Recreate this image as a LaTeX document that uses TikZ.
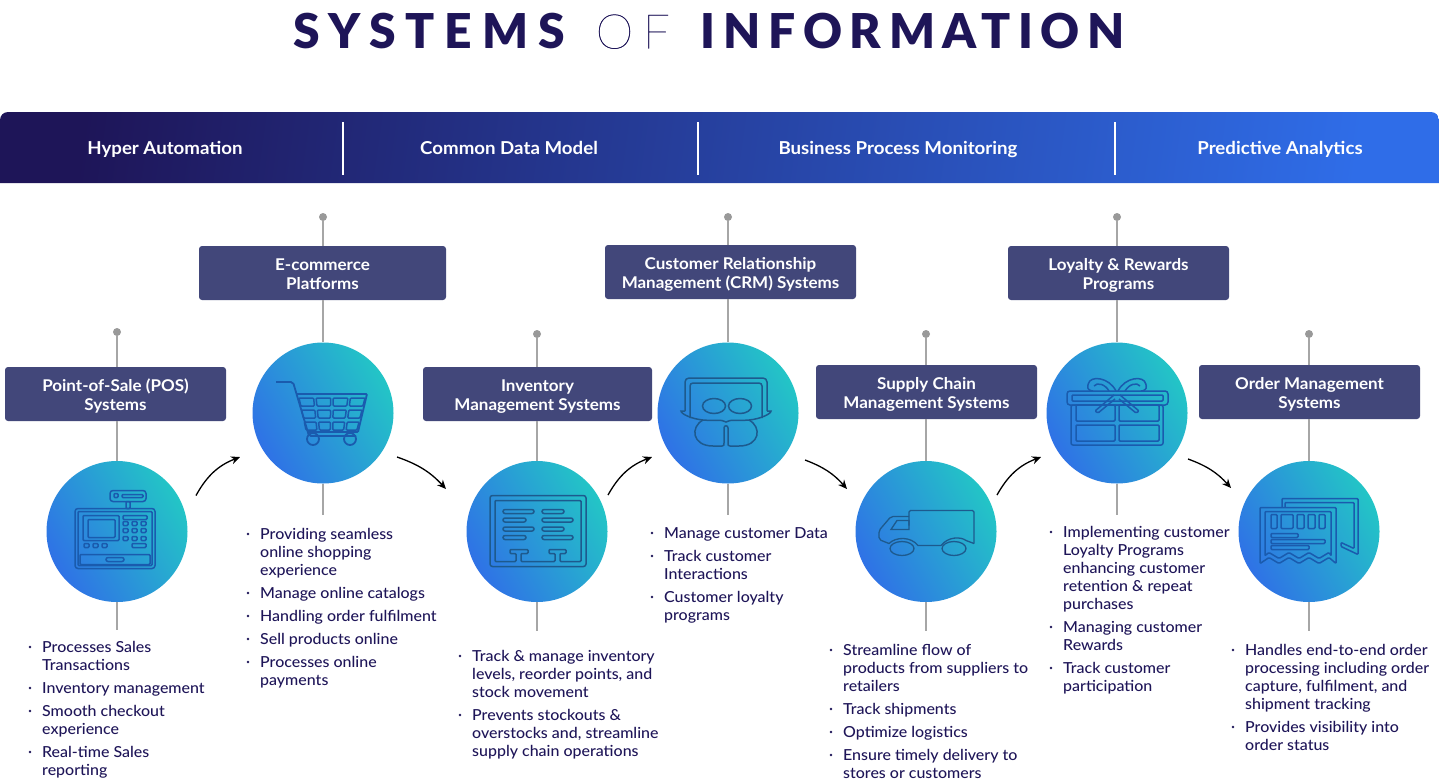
\documentclass[tikz,border=0pt]{standalone}
\usepackage{fontspec}
\setmainfont{Lato Medium}[FakeStretch=1.05,BoldFont={Lato Bold},BoldFeatures={FakeStretch=1.05}]
\newfontfamily\titleheavy{Lato Black}[LetterSpace=20.5]
\newfontfamily\titlewide{Lato Black}[LetterSpace=16]
\newfontfamily\titlethin{Lato Thin}[LetterSpace=20,FakeBold=0.5]
\usepackage{xcolor}
\usetikzlibrary{arrows.meta,positioning,calc}
\definecolor{navy}{HTML}{1E1558}
\definecolor{boxc}{HTML}{42477A}
\definecolor{stemc}{HTML}{A6A6A6}
\definecolor{pinc}{HTML}{999999}
\definecolor{barl}{HTML}{1E1558}
\definecolor{barr}{HTML}{2F6DE8}
\definecolor{circb}{HTML}{2F72E6}
\definecolor{circt}{HTML}{23C5C6}
\definecolor{iconc}{HTML}{1A5BAE}
\definecolor{icond}{HTML}{1D5A8E}
\tikzset{
  declare function={cartL(\y)=-24+.22*(\y+15); cartP(\y)=(68.5-.47*(\y+15))/4;},
  stemline/.style={draw=stemc, line width=2pt},
  pindot/.style={circle, fill=pinc, inner sep=0pt, minimum size=8pt},
  stagebox/.style={fill=boxc, rounded corners=3pt, text=white, align=center, inner sep=0pt, minimum height=54pt, font=\fontsize{16.2}{19}\selectfont\bfseries},
  disc/.style={circle, inner sep=0pt, minimum size=141pt, bottom color=circb, top color=circt, shading angle=-60},
  flow/.style={-{Stealth[length=9pt,width=8pt]}, line width=1.3pt, black},
  barlbl/.style={text=white, inner sep=0pt, text height=13pt, text depth=4pt, font=\fontsize{17.8}{20}\selectfont\bfseries},
  bullettxt/.style={anchor=north west, inner sep=0pt, text=navy, align=left, font=\fontsize{15.2}{18}\selectfont},
  bulletdot/.style={circle, fill=navy, inner sep=0pt, minimum size=2.8pt},
  icon/.style={draw=iconc, line width=1.5pt, rounded corners=1pt},
  icondark/.style={draw=icond, line width=1.3pt},
}
\newcommand{\stage}[9]{%
  \node[pindot] (#1pin) at (#2,#3) {};
  \node[stagebox, minimum width=#6pt] (#1box) at (#4,#5) {\rule{0pt}{18pt}#9\rule[-4pt]{0pt}{4pt}};
  \node[disc] (#1) at (#2,#7) {};
  \coordinate (#1foot) at (#2,#8);
  \draw[stemline] (#1pin) -- (#1box.north -| #1pin);
  \draw[stemline] (#1box.south -| #1pin) -- (#1);
  \draw[stemline] (#1) -- (#1foot);
}
\newcommand{\bul}[4]{%
  \node[bulletdot] (#1d) at (#2-12,#3) {};
  \node[bullettxt] (#1) at (#2,#3-7) {\strut #4};
}
\newcommand{\hop}[5]{\draw[flow] ($(#1)+(#2)$) to[bend left=#5] ($(#3)+(#4)$);}
\begin{document}
\begin{tikzpicture}[x=1pt,y=-1pt]
  \useasboundingbox (0,0) rectangle (1439,782);
  % title
  \node[anchor=west, inner sep=0pt, text=navy, font=\fontsize{48}{50}\selectfont] (title) at (293,31)
    {{\titleheavy SYSTEMS}\hspace{31pt}{\titlethin OF}\hspace{31pt}{\titlewide INFORMATION}};
  % band
  \shade[left color=barl, right color=barr, shading angle=82]
    (0,183) [rounded corners=8pt] -- (0,112) -- (1439,112) [sharp corners] -- (1439,183) -- cycle;
  \foreach \x in {343,698,1115} \draw[white, line width=1.1pt] (\x,122) -- (\x,175);
  \node[barlbl] (hyper) at (165,149.5) {Hyper Automation};
  \node[barlbl] (cdm) at (509,149.5) {Common Data Model};
  \node[barlbl] (bpm) at (898,149.5) {Business Process Monitoring};
  \node[barlbl] (pred) at (1280,149.5) {Predictive Analytics};
  % stages
  \stage{pos}{117}{332}{115.5}{394}{221}{531.5}{630}{Point-of-Sale (POS)\\Systems}
  \stage{ecom}{323}{217}{322.5}{273}{247}{413}{515}{E-commerce\\Platforms}
  \stage{inv}{537}{334}{537.5}{394}{229}{531.5}{631}{Inventory\\Management Systems}
  \stage{crm}{728}{217}{730.5}{272}{251}{413}{515}{Customer Relationship\\Management (CRM) Systems}
  \stage{sup}{926}{334}{926.5}{392}{221}{531.5}{631}{Supply Chain\\Management Systems}
  \stage{loy}{1117}{217}{1118.5}{273}{221}{413}{515}{Loyalty \& Rewards\\Programs}
  \stage{ord}{1309}{334}{1309.5}{392}{221}{531.5}{631}{Order Management\\Systems}
  % arrows
  \hop{pos}{79,-36}{ecom}{-83,44}{20}
  \hop{ecom}{74,44}{inv}{-91,-42.5}{14}
  \hop{inv}{71,-36.5}{crm}{-76,44}{20}
  \hop{crm}{77,47}{sup}{-79,-42.5}{14}
  \hop{sup}{71,-36.5}{loy}{-76,44}{20}
  \hop{loy}{71,46}{ord}{-78,-43.5}{14}
  % till
  \begin{scope}[shift={(pos.center)}]
    \draw[icon, rounded corners=3pt] (-42,-23) rectangle (38,37);
    \draw[icon] (-39,-20) rectangle (35,34);
    \draw[icon, rounded corners=3pt] (-7,-41) rectangle (29,-30);
    \draw[icon] (-3,-38) rectangle (1,-34) (5,-37) rectangle (26,-34);
    \draw[icon] (9,-30) rectangle (13,-23);
    \draw[icon] (-34,-16) rectangle (2,9);
    \draw[icon] (-29,-12) rectangle (-2,6);
    \draw[icon] (6,-16) rectangle (30,-12);
    \foreach \y in {-10,-3,5} \foreach \x in {6,15,24} \draw[icon] (\x,\y) rectangle ++(5,4);
    \foreach \x in {-33,-24,-15} \draw[icon] (\x,12) rectangle ++(5,4);
    \draw[icon] (15,12) rectangle (29,16);
    \draw[icon] (-37,23) rectangle (33,33);
    \draw[icon, rounded corners=2pt] (-11,26) rectangle (7,30);
  \end{scope}
  % cart
  \begin{scope}[shift={(ecom.center)}]
    \draw[icon, line width=1.8pt, rounded corners=2pt] (-47,-31) -- (-30,-31) -- (-14,23) -- (33,23);
    \draw[icon, line width=1.8pt] (-26,-19) -- (44,-19) -- (35,19) -- (-16,19);
    \draw[icon, line width=1.8pt] (-10,26) circle (6) (27,26) circle (6);
    \foreach \yt/\yb in {-15/-7,-3/5,9/17} \foreach \i in {0,1,2,3}
      \draw[icon] ({cartL(\yt)+\i*cartP(\yt)},\yt) -- ({cartL(\yt)+(\i+1)*cartP(\yt)-2.5},\yt)
        -- ({cartL(\yb)+(\i+1)*cartP(\yb)-2.5},\yb) -- ({cartL(\yb)+\i*cartP(\yb)},\yb) -- cycle;
  \end{scope}
  % board
  \begin{scope}[shift={(inv.center)}]
    \draw[icon, draw=icond, rounded corners=2.5pt] (-47,-36) rectangle (49,35);
    \draw[icon, draw=icond] (-42,-31) -- (44,-31) -- (44,30) -- (23,30) -- (23,22) -- (29,22) -- (29,18) -- (12,18) -- (12,22) -- (18,22) -- (18,30)
      -- (-16,30) -- (-16,22) -- (-9,22) -- (-9,18) -- (-27,18) -- (-27,22) -- (-21,22) -- (-21,30) -- (-42,30) -- cycle;
    \foreach \a/\b/\y in {-34/-3/-20,-34/-11/-11.5,-34/-3/-2.5,-34/-11/6,5/27/-20,5/36/-11.5,5/27/-2.5,5/36/6}
      \draw[icon, draw=icond, rounded corners=2pt] (\a,\y-2) rectangle (\b,\y+2);
  \end{scope}
  % two figures
  \begin{scope}[shift={(crm.center)}]
    \draw[icon, draw=icond, rounded corners=4pt] (39,-2) -- (39,-35) -- (-43,-35) -- (-43,-2);
    \draw[icon, draw=icond, rounded corners=3pt] (34,5) -- (34,-30) -- (-38,-30) -- (-38,5);
    \draw[icondark, line width=1.5pt] (-43,-2) -- (-47,-2) .. controls (-47,1) and (-36,6) .. (-25,7) .. controls (-15,8) and (-6,6) .. (-2,9)
      .. controls (2,6) and (11,8) .. (21,7) .. controls (32,6) and (43,1) .. (43,-2) -- (39,-2);
    \draw[icon, draw=icond] (-14,-7) ellipse [x radius=11.5, y radius=7.5];
    \draw[icon, draw=icond] (12,-7) ellipse [x radius=11.5, y radius=7.5];
    \draw[icondark, line width=1.5pt] (-25,7) .. controls (-38,14) and (-36,33) .. (-15,33) -- (-6,33) .. controls (-4,33) and (-4,32) .. (-4,30) -- (-4,15) .. controls (-4,12) and (0,12) .. (0,15)
      -- (0,30) .. controls (0,32) and (0,33) .. (2,33) -- (11,33) .. controls (32,33) and (34,14) .. (21,7);
  \end{scope}
  % truck
  \begin{scope}[shift={(sup.center)}]
    \draw[icondark, rounded corners=1.5pt] (-17,-6) -- (-17,-21) -- (48,-21) -- (48,12);
    \draw[icondark, rounded corners=2pt] (-17,-15) -- (-35,-15) -- (-47,-1) -- (-47,8) -- (-37,12);
    \draw[icondark] (-29,-11) -- (-17,-11) -- (-17,-2) -- (-35,-2) -- cycle;
    \draw[icondark] (-37,12) .. controls (-30,5) and (-15,5) .. (-8,14) -- (15,14) .. controls (22,5) and (35,5) .. (40,9) -- (48,12);
    \draw[icondark] (-24,17) ellipse [x radius=12, y radius=7];
    \draw[icondark] (28,17) ellipse [x radius=12, y radius=7];
  \end{scope}
  % gift
  \begin{scope}[shift={(loy.center)}]
    \draw[icon, rounded corners=3pt] (-50,-22) rectangle (51,-8);
    \draw[icon] (-45,-18) rectangle (46,-12);
    \draw[icon, rounded corners=2pt] (-46,-8) rectangle (46,32);
    \foreach \a/\b/\c/\d in {-41/-8/-2/8,2/-8/42/8,-41/12/-2/28,2/12/42/28} \draw[icon] (\a,\b) rectangle (\c,\d);
    \draw[icon] (-1,-22) .. controls (-8,-36) and (-27,-38) .. (-29,-28) .. controls (-30,-24) and (-27,-22) .. (-24,-22);
    \draw[icon] (1,-22) .. controls (8,-36) and (27,-38) .. (29,-28) .. controls (30,-24) and (27,-22) .. (24,-22);
    \draw[icon] (-8,-22) .. controls (-12,-29) and (-20,-31) .. (-23,-27);
    \draw[icon] (8,-22) .. controls (12,-29) and (20,-31) .. (23,-27);
    \draw[icon] (-3,-18) -- (-22,-2) -- (-19,0) -- (-2,-14) (3,-18) -- (22,-2) -- (19,0) -- (2,-14);
  \end{scope}
  % receipt
  \begin{scope}[shift={(ord.center)}]
    \draw[icon] (-27,-24) -- (-27,-33) -- (49,-33) -- (49,23) -- (32,15) -- (32,11) -- (45,17) -- (45,-29) -- (-24,-29) -- (-24,-24);
    \draw[icon] (27,32) -- (27,-24) -- (-49,-24) -- (-49,32) -- (-40,26) -- (-30,32) -- (-20,26) -- (-10,32) -- (0,26) -- (10,32) -- (20,26) -- cycle;
    \draw[icon] (-44,24) -- (-44,-20) -- (22,-20) -- (22,24) (-44,24) -- (-40,21) -- (-30,27) -- (-20,21) -- (-10,27) -- (0,21) -- (10,27) -- (20,21) -- (22,24);
    \foreach \a/\b in {-38/-32,-28/-16,-12/-5,-1/6,10/16} \draw[icon] (\a,-17) rectangle (\b,-3);
    \foreach \b/\y in {-11/2,16/8,0/14} \draw[icon] (-38,\y) rectangle (\b,\y+4);
  \end{scope}
  % lists
  \bul{posa}{42}{647}{Processes Sales\\Transactions}
  \bul{posb}{42}{688}{Inventory management}
  \bul{posc}{42}{711}{Smooth checkout\\experience}
  \bul{posd}{42}{752}{Real-time Sales\\reporting}
  \bul{ecoa}{260}{534}{Providing seamless\\online shopping\\experience}
  \bul{ecob}{260}{593}{Manage online catalogs}
  \bul{ecoc}{260}{616}{Handling order fulfilment}
  \bul{ecod}{260}{639}{Sell products online}
  \bul{ecoe}{260}{662}{Processes online\\payments}
  \bul{inva}{472}{656}{Track \& manage inventory\\levels, reorder points, and\\stock movement}
  \bul{invb}{472}{715}{Prevents stockouts \&\\overstocks and, streamline\\supply chain operations}
  \bul{crma}{664}{533}{Manage customer Data}
  \bul{crmb}{664}{556}{Track customer\\Interactions}
  \bul{crmc}{664}{597}{Customer loyalty\\programs}
  \bul{supa}{843}{650}{Streamline flow of\\products from suppliers to\\retailers}
  \bul{supb}{843}{709}{Track shipments}
  \bul{supc}{843}{732}{Optimize logistics}
  \bul{supd}{843}{755}{Ensure timely delivery to\\stores or customers}
  \bul{loya}{1063}{532}{Implementing customer\\Loyalty Programs\\enhancing customer\\retention \& repeat\\purchases}
  \bul{loyb}{1063}{627}{Managing customer\\Rewards}
  \bul{loyc}{1063}{668}{Track customer\\participation}
  \bul{orda}{1245}{650}{Handles end-to-end order\\processing including order\\capture, fulfilment, and\\shipment tracking}
  \bul{ordb}{1245}{727}{Provides visibility into\\order status}
\end{tikzpicture}
\end{document}
